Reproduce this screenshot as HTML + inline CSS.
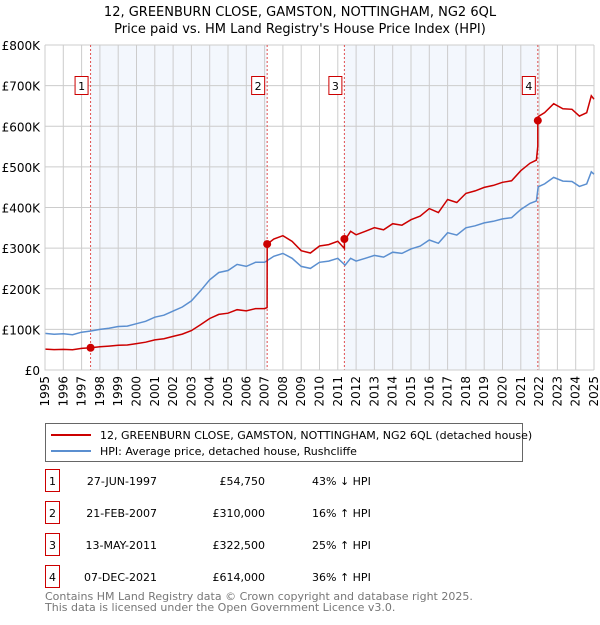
<!DOCTYPE html>
<html><head><meta charset="utf-8"><style>
body{margin:0;background:#fff;font-family:"Liberation Sans","DejaVu Sans",sans-serif;}
svg text{font-family:"DejaVu Sans","Liberation Sans",sans-serif;}
</style></head><body>
<svg id="chart" width="600" height="620" viewBox="0 0 600 620" xmlns="http://www.w3.org/2000/svg">
<text x="300" y="16" text-anchor="middle" font-size="13">12, GREENBURN CLOSE, GAMSTON, NOTTINGHAM, NG2 6QL</text>
<text x="300" y="33" text-anchor="middle" font-size="13">Price paid vs. HM Land Registry's House Price Index (HPI)</text>
<g id="plot"></g>
<g>
<rect x="45.5" y="423.5" width="477" height="38" fill="#fff" stroke="#666"/>
<line x1="51" y1="435" x2="91" y2="435" stroke="#cc0000" stroke-width="2"/>
<text x="100" y="439" font-size="11">12, GREENBURN CLOSE, GAMSTON, NOTTINGHAM, NG2 6QL (detached house)</text>
<line x1="51" y1="451" x2="91" y2="451" stroke="#5b8fd0" stroke-width="2"/>
<text x="100" y="455" font-size="11">HPI: Average price, detached house, Rushcliffe</text>
</g>
<g id="table"></g>
<text x="45" y="600" font-size="11" fill="#777">Contains HM Land Registry data © Crown copyright and database right 2025.</text>
<text x="45" y="611" font-size="11" fill="#777">This data is licensed under the Open Government Licence v3.0.</text>
</svg>
<script>
const hpiYears=[1995,1995.5,1996,1996.5,1997,1997.5,1998,1998.5,1999,1999.5,2000,2000.5,2001,2001.5,2002,2002.5,2003,2003.5,2004,2004.5,2005,2005.5,2006,2006.5,2007,2007.5,2008,2008.5,2009,2009.5,2010,2010.5,2011,2011.4,2011.7,2012,2012.5,2013,2013.5,2014,2014.5,2015,2015.5,2016,2016.5,2017,2017.5,2018,2018.5,2019,2019.5,2020,2020.5,2021,2021.5,2021.85,2021.95,2022.3,2022.8,2023.3,2023.8,2024.2,2024.6,2024.85,2025];
const hpiValues=[90,88,89,87,93,96,100,103,107,108,114,120,130,135,145,155,170,195,222,240,245,260,255,265,265,280,287,275,255,250,265,268,275,258,275,268,275,282,278,290,287,298,305,320,312,338,332,350,355,362,366,372,375,395,410,416,451,458,474,465,464,452,458,488,482];
const saleYears=[1997.49,2007.14,2011.36,2021.93];
const salePrices=[54750,310000,322500,614000];
const saleDates=["27-JUN-1997","21-FEB-2007","13-MAY-2011","07-DEC-2021"];
const salePriceLabels=["£54,750","£310,000","£322,500","£614,000"];
const saleHpiLabels=["43% ↓ HPI","16% ↑ HPI","25% ↑ HPI","36% ↑ HPI"];
const yTicks=[0,100,200,300,400,500,600,700,800];
const yTickLabels=["£0","£100K","£200K","£300K","£400K","£500K","£600K","£700K","£800K"];
const xTicks=[1995,1996,1997,1998,1999,2000,2001,2002,2003,2004,2005,2006,2007,2008,2009,2010,2011,2012,2013,2014,2015,2016,2017,2018,2019,2020,2021,2022,2023,2024,2025];

const L=45,R=594,T=45,B=370;
const x=y=>L+(y-1995)/30*(R-L);
const yy=v=>B-v/800*(B-T);
const NS="http://www.w3.org/2000/svg";
const plot=document.getElementById('plot');
function mk(tag,attrs,parent){const e=document.createElementNS(NS,tag);for(const k in attrs)e.setAttribute(k,attrs[k]);(parent||plot).appendChild(e);return e;}
function hpiAt(t){for(let i=0;i<hpiYears.length-1;i++){if(t<=hpiYears[i+1]){const f=(t-hpiYears[i])/(hpiYears[i+1]-hpiYears[i]);return hpiValues[i]+f*(hpiValues[i+1]-hpiValues[i]);}}return hpiValues[hpiValues.length-1];}
for(let i=0;i<saleYears.length;i+=2){
 const r=mk('rect',{x:x(saleYears[i]),y:T,width:x(saleYears[i+1])-x(saleYears[i]),height:B-T,fill:'#eef3fc',opacity:0.7});
 
 
}
xTicks.forEach(t=>{const l=mk('line',{x1:x(t),x2:x(t),y1:T,y2:B,stroke:'#ccc'});
 
 const tx=mk('text',{x:0,y:0,'font-size':12,'text-anchor':'end',transform:`translate(${x(t)+4},${B+6}) rotate(-90)`});
 tx.textContent=t;});
yTicks.forEach((t,i)=>{const l=mk('line',{x1:L,x2:R,y1:yy(t),y2:yy(t),stroke:'#ccc'});
 
 const tx=mk('text',{x:L-5,y:yy(t)+5,'font-size':12,'text-anchor':'end'});
 tx.textContent=yTickLabels[i];});
saleYears.forEach((s,i)=>{
 const l=mk('line',{x1:x(s),x2:x(s),y1:T,y2:B,stroke:'#e05050','stroke-dasharray':'2,2'});
 
 const r=mk('rect',{x:x(s)-15.5,y:76.5,width:13,height:18,fill:'#fff',stroke:'#cc0000'});
 
 const tx=mk('text',{x:x(s)-9,y:90,'font-size':11,'text-anchor':'middle'});tx.textContent=i+1;
 
});
let d='';hpiYears.forEach((t,i)=>{d+=(i?'L':'M')+x(t).toFixed(1)+','+yy(hpiValues[i]).toFixed(1);});
const hp=mk('path',{d:d,fill:'none',stroke:'#5b8fd0','stroke-width':1.5});

function ratioAt(t){let r=salePrices[0]/1000/hpiAt(saleYears[0]);for(let i=0;i<saleYears.length;i++){if(t>=saleYears[i])r=salePrices[i]/1000/hpiAt(saleYears[i]);}return r;}
let pts=[];hpiYears.forEach(t=>pts.push(t));saleYears.forEach(s=>{pts.push(s-0.001);pts.push(s);});pts.sort((a,b)=>a-b);
let d2='';pts.forEach((t,i)=>{d2+=(i?'L':'M')+x(t).toFixed(1)+','+yy(hpiAt(t)*ratioAt(t)).toFixed(1);});
const pp=mk('path',{d:d2,fill:'none',stroke:'#cc0000','stroke-width':1.5});

saleYears.forEach((s,i)=>{const c=mk('circle',{cx:x(s),cy:yy(salePrices[i]/1000),r:4,fill:'#cc0000'});
 });
mk('path',{d:`M${L},${T}V${B}H${R}`,fill:'none',stroke:'#ccc'});
const tb=document.getElementById('table');
saleDates.forEach((dt,i)=>{const cy=481+i*32;
 const r=mk('rect',{x:45.5,y:cy-11.5,width:14,height:22,fill:'#fff',stroke:'#cc0000'},tb);
 
 const n=mk('text',{x:52.5,y:cy+4,'font-size':11,'text-anchor':'middle'},tb);n.textContent=i+1;
 const a=mk('text',{x:157,y:cy+4,'font-size':11,'text-anchor':'end'},tb);a.textContent=dt;
 
 const b=mk('text',{x:265,y:cy+4,'font-size':11,'text-anchor':'end'},tb);b.textContent=salePriceLabels[i];
 
 const c=mk('text',{x:312,y:cy+4,'font-size':11},tb);c.textContent=saleHpiLabels[i];
 
});
</script>
</body></html>
